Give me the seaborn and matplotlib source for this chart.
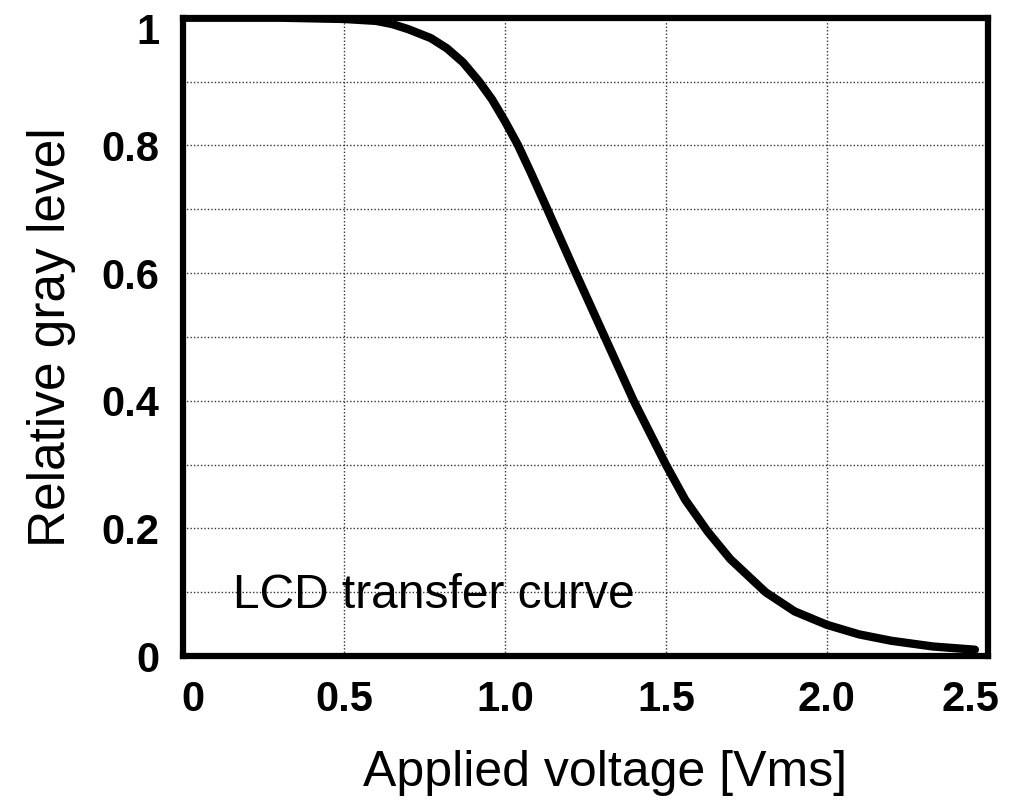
import matplotlib
matplotlib.use('Agg')
import matplotlib.pyplot as plt
from matplotlib.transforms import ScaledTranslation
import seaborn as sns
import pandas as pd

# values
voltage = [0.0, 0.3, 0.5, 0.6, 0.65, 0.7, 0.77, 0.82, 0.87, 0.92, 0.96, 1.0,
           1.04, 1.08, 1.13, 1.22, 1.31, 1.40, 1.50, 1.56, 1.63, 1.70, 1.81,
           1.90, 2.0, 2.1, 2.2, 2.33, 2.46]
gray_level = [1.0, 1.0, 0.998, 0.995, 0.99, 0.982, 0.968, 0.952, 0.93, 0.9,
              0.872, 0.838, 0.801, 0.758, 0.702, 0.60, 0.50, 0.40, 0.30,
              0.245, 0.195, 0.152, 0.10, 0.07, 0.049, 0.034, 0.024, 0.015,
              0.01]

x_ticks = [0, 0.5, 1.0, 1.5, 2.0, 2.5]
x_tick_labels = ['0', '0.5', '1.0', '1.5', '2.0', '2.5']
y_ticks = [0, 0.2, 0.4, 0.6, 0.8, 1.0]
y_tick_labels = ['0', '0.2', '0.4', '0.6', '0.8', '1']
y_minor = [0.1, 0.3, 0.5, 0.7, 0.9]
x_grid = [0.5, 1.0, 1.5, 2.0]
y_grid = [0.1, 0.2, 0.3, 0.4, 0.5, 0.6, 0.7, 0.8, 0.9]

sns.set_theme(style='white')
plt.rcParams['font.family'] = ['Liberation Sans', 'DejaVu Sans']

df = pd.DataFrame({'voltage': voltage, 'gray': gray_level})

fig = plt.figure(figsize=(10.11, 8.05), dpi=100)
ax = fig.add_axes([0.181, 0.185, 0.796, 0.793])

for gx in x_grid:
    ax.axvline(gx, color='#333333', lw=1.0, ls=(0, (1, 1.5)), zorder=1)
for gy in y_grid:
    ax.axhline(gy, color='#333333', lw=1.0, ls=(0, (1, 1.5)), zorder=1)

sns.lineplot(data=df, x='voltage', y='gray', color='black', lw=6,
             sort=False, ax=ax, zorder=3)
ax.lines[-1].set_solid_capstyle('round')
ax.lines[-1].set_solid_joinstyle('round')

ax.set_xlim(0, 2.5)
ax.set_ylim(0, 1.0)
ax.set_xticks(x_ticks)
ax.set_xticklabels(x_tick_labels, fontsize=30, fontweight='bold', color='black')
ax.set_yticks(y_ticks)
ax.set_yticks(y_minor, minor=True)
ax.set_yticklabels(y_tick_labels, fontsize=30, fontweight='bold', color='black')
ax.tick_params(axis='both', which='both', length=4, width=1.5,
               color='black', direction='out')
ax.tick_params(axis='x', pad=13)
ax.tick_params(axis='y', pad=13)

# pull the end labels inward like the original
xl = ax.get_xticklabels()
xl[0].set_transform(xl[0].get_transform() + ScaledTranslation(10 / 100, 0, fig.dpi_scale_trans))
xl[-1].set_transform(xl[-1].get_transform() + ScaledTranslation(-17 / 100, 0, fig.dpi_scale_trans))
yl = ax.get_yticklabels()
yl[-1].set_transform(yl[-1].get_transform() + ScaledTranslation(0, -11 / 100, fig.dpi_scale_trans))

for sp in ax.spines.values():
    sp.set_visible(True)
    sp.set_color('black')
    sp.set_linewidth(4.5)

ax.set_xlabel('Applied voltage [Vms]', fontsize=36, color='black', labelpad=22)
ax.xaxis.label.set_x(0.525)
ax.set_ylabel('Relative gray level', fontsize=37, color='black', labelpad=18)

ax.text(0.155, 0.095, 'LCD transfer curve', fontsize=34.5, va='center',
        ha='left', color='black', zorder=4)

fig.savefig('out.png', dpi=100)
